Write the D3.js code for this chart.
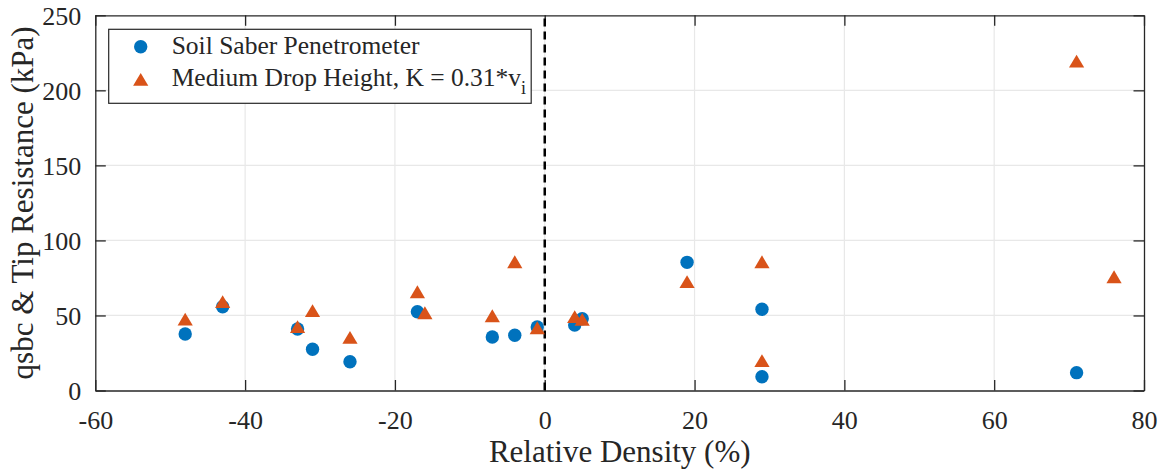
<!DOCTYPE html>
<html>
<head>
<meta charset="utf-8">
<script src="https://cdn.jsdelivr.net/npm/d3@7"></script>
<style>
  body { margin: 0; background: #fff; }
  text { font-family: "Liberation Serif", "Times New Roman", serif; fill: #262626; }
</style>
</head>
<body>
<div id="chart"></div>
<script>
// Soil Saber Penetrometer (qsbc)
const saberDensity = [-48, -43, -33, -31, -26, -17, -7, -4, -1, 4, 5, 19, 29, 29, 71];
const saberValue = [37.6, 55.8, 41, 27.5, 19.2, 52.5, 35.6, 36.8, 42.3, 43.6, 47.8, 85.4, 54.1, 9.2, 11.9];

// Medium drop height tip resistance
const dropDensity = [-48, -43, -33, -31, -26, -17, -16, -7, -4, -1, 4, 5, 19, 29, 29, 71, 76];
const dropValue = [47.6, 59.2, 42.5, 53.2, 35.4, 65.8, 51.8, 49.8, 85.8, 41.8, 49.2, 47.4, 72.5, 85.8, 19.9, 219.5, 75.8];

const xTicks = [-60, -40, -20, 0, 20, 40, 60, 80];
const yTicks = [0, 50, 100, 150, 200, 250];

const width = 1164, height = 470;
const margin = { top: 15.3, right: 20, bottom: 79.5, left: 95.3 };
const innerW = width - margin.left - margin.right;
const innerH = height - margin.top - margin.bottom;
const blue = "#0072BD", orange = "#D95319", axisColor = "#262626";

const svg = d3.select("#chart")
  .append("svg")
  .attr("width", width)
  .attr("height", height);

const g = svg.append("g")
  .attr("transform", "translate(" + margin.left + "," + margin.top + ")");

const x = d3.scaleLinear().domain([-60, 80]).range([0, innerW]);
const y = d3.scaleLinear().domain([0, 250]).range([innerH, 0]);

// grid
g.append("g")
  .selectAll("line")
  .data(xTicks.slice(1, -1))
  .join("line")
  .attr("x1", d => x(d)).attr("x2", d => x(d))
  .attr("y1", 0).attr("y2", innerH)
  .attr("stroke", "#e8e8e8").attr("stroke-width", 1.2);

g.append("g")
  .selectAll("line")
  .data(yTicks.slice(1, -1))
  .join("line")
  .attr("y1", d => y(d)).attr("y2", d => y(d))
  .attr("x1", 0).attr("x2", innerW)
  .attr("stroke", "#e8e8e8").attr("stroke-width", 1.2);

// axes (ticks inside, mirrored)
const tickLen = 10.5;
const plain = d => String(d); // hyphen minus like the original
const xAxis = g.append("g")
  .attr("transform", "translate(0," + innerH + ")")
  .call(d3.axisBottom(x).tickValues(xTicks).tickFormat(plain).tickSizeInner(-tickLen).tickSizeOuter(0).tickPadding(14));
const yAxis = g.append("g")
  .call(d3.axisLeft(y).tickValues(yTicks).tickFormat(plain).tickSizeInner(-tickLen).tickSizeOuter(0).tickPadding(14));
const xTop = g.append("g")
  .call(d3.axisTop(x).tickValues(xTicks).tickSizeInner(-tickLen).tickSizeOuter(0).tickFormat(""));
const yRight = g.append("g")
  .attr("transform", "translate(" + innerW + ",0)")
  .call(d3.axisRight(y).tickValues(yTicks).tickSizeInner(-tickLen).tickSizeOuter(0).tickFormat(""));

[xAxis, yAxis, xTop, yRight].forEach(a => {
  a.select(".domain").attr("stroke", axisColor).attr("stroke-width", 1.3);
  a.selectAll(".tick line").attr("stroke", axisColor).attr("stroke-width", 1.3);
  a.selectAll(".tick text")
    .style("font-family", "'Liberation Serif', serif")
    .style("font-size", "26px")
    .attr("fill", axisColor);
});
xAxis.selectAll(".tick text").attr("dy", "0.93em");
yAxis.selectAll(".tick text").attr("dy", "0.36em");

// dashed line at zero density
g.append("line")
  .attr("x1", x(0)).attr("x2", x(0))
  .attr("y1", y(0)).attr("y2", y(250))
  .attr("stroke", "#000")
  .attr("stroke-width", 2.5)
  .attr("stroke-dasharray", "8,5");

// markers
function triangle(cx, cy) {
  const p = d3.path();
  p.moveTo(cx, cy - 6.4);
  p.lineTo(cx + 7.6, cy + 6.4);
  p.lineTo(cx - 7.6, cy + 6.4);
  p.closePath();
  return p.toString();
}

g.append("g")
  .selectAll("circle")
  .data(saberDensity.map((d, i) => ({ x: d, v: saberValue[i] })))
  .join("circle")
  .attr("cx", d => x(d.x))
  .attr("cy", d => y(d.v))
  .attr("r", 6.7)
  .attr("fill", blue);

g.append("g")
  .selectAll("path")
  .data(dropDensity.map((d, i) => ({ x: d, v: dropValue[i] })))
  .join("path")
  .attr("d", d => triangle(x(d.x), y(d.v)))
  .attr("fill", orange);

// axis titles
svg.append("text")
  .attr("x", margin.left + x(0) + 75)
  .attr("y", 461.5)
  .attr("text-anchor", "middle")
  .style("font-size", "31px")
  .text("Relative Density (%)");

svg.append("text")
  .attr("transform", "translate(33," + (margin.top + innerH / 2) + ") rotate(-90)")
  .attr("text-anchor", "middle")
  .style("font-size", "31px")
  .text("qsbc & Tip Resistance (kPa)");

// legend
const legend = svg.append("g");
legend.append("rect")
  .attr("x", 108.7).attr("y", 29.3)
  .attr("width", 422.5).attr("height", 74)
  .attr("fill", "#fff")
  .attr("stroke", axisColor)
  .attr("stroke-width", 1.2);

legend.append("circle")
  .attr("cx", 140.7).attr("cy", 46.7).attr("r", 6.7)
  .attr("fill", blue);
legend.append("path")
  .attr("d", triangle(140.7, 79.3))
  .attr("fill", orange);

legend.append("text")
  .attr("x", 171.7).attr("y", 54)
  .style("font-size", "25.5px")
  .text("Soil Saber Penetrometer");

const t2 = legend.append("text")
  .attr("x", 171.7).attr("y", 85.5)
  .style("font-size", "25.5px");
t2.append("tspan").text("Medium Drop Height, K = 0.31*v");
t2.append("tspan").attr("dy", 8).style("font-size", "18px").text("i");
</script>
</body>
</html>
